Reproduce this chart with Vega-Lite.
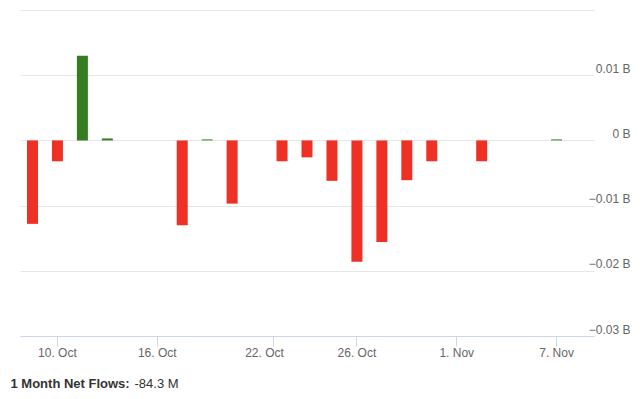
{
  "$schema": "https://vega.github.io/schema/vega-lite/v6.json",
  "width": 574,
  "height": 326,
  "autosize": {"type": "none"},
  "padding": {"left": 20, "top": 10, "right": 46, "bottom": 63},
  "background": "white",
  "config": {
    "view": {"stroke": null},
    "font": "Liberation Sans",
    "axis": {"labelFont": "Liberation Sans", "titleFont": "Liberation Sans"}
  },
  "data": {
    "values": [
      {"date": "2023-10-09", "flow": -12.8},
      {"date": "2023-10-10", "flow": -3.2},
      {"date": "2023-10-11", "flow": 13.0},
      {"date": "2023-10-12", "flow": 0.3},
      {"date": "2023-10-13", "flow": 0},
      {"date": "2023-10-16", "flow": 0},
      {"date": "2023-10-17", "flow": -13.0},
      {"date": "2023-10-18", "flow": 0.15},
      {"date": "2023-10-19", "flow": -9.7},
      {"date": "2023-10-20", "flow": 0},
      {"date": "2023-10-23", "flow": -3.2},
      {"date": "2023-10-24", "flow": -2.6},
      {"date": "2023-10-25", "flow": -6.2},
      {"date": "2023-10-26", "flow": -18.6},
      {"date": "2023-10-27", "flow": -15.6},
      {"date": "2023-10-30", "flow": -6.1},
      {"date": "2023-10-31", "flow": -3.2},
      {"date": "2023-11-01", "flow": 0},
      {"date": "2023-11-02", "flow": -3.2},
      {"date": "2023-11-03", "flow": 0},
      {"date": "2023-11-06", "flow": 0},
      {"date": "2023-11-07", "flow": 0.15}
    ]
  },
  "resolve": {"axis": {"x": "independent"}},
  "layer": [
    {
      "mark": {"type": "bar", "width": 11},
      "encoding": {
        "x": {
          "field": "date",
          "type": "ordinal",
          "sort": null,
          "scale": {
            "type": "band",
            "paddingInner": 0,
            "paddingOuter": 0,
            "domain": ["2023-10-09","2023-10-10","2023-10-11","2023-10-12","2023-10-13","2023-10-16","2023-10-17","2023-10-18","2023-10-19","2023-10-20","2023-10-23","2023-10-24","2023-10-25","2023-10-26","2023-10-27","2023-10-30","2023-10-31","2023-11-01","2023-11-02","2023-11-03","2023-11-06","2023-11-07","2023-11-08"]
          },
          "axis": {
            "orient": "bottom",
            "values": ["2023-10-10","2023-10-16","2023-10-26","2023-11-01","2023-11-07"],
            "labelExpr": "utcFormat(toDate(datum.value), '%-d. %b')",
            "labelAngle": 0,
            "labelFontSize": 12,
            "labelColor": "#666666",
            "labelBaseline": "alphabetic",
            "labelPadding": 10,
            "domainColor": "#ccd6eb",
            "tickColor": "#ccd6eb",
            "tickSize": 10,
            "grid": false,
            "title": "1 Month Net Flows:",
            "titleFontSize": 13,
            "titleFontWeight": "bold",
            "titleColor": "#333333",
            "titleAlign": "left",
            "titleBaseline": "alphabetic",
            "titleAngle": 0,
            "titleX": -10,
            "titleY": 51
          }
        },
        "y": {
          "field": "flow",
          "type": "quantitative",
          "scale": {"domain": [-30, 20], "nice": false, "zero": true},
          "axis": {
            "orient": "right",
            "values": [-30, -20, -10, 0, 10, 20],
            "labelExpr": "datum.value == 20 ? '' : (datum.value == 0 ? '0 B' : format(datum.value / 1000, '.2f') + ' B')",
            "labelFontSize": 12,
            "labelColor": "#666666",
            "labelAlign": "right",
            "labelBaseline": "alphabetic",
            "labelOffset": -3,
            "labelPadding": 36,
            "ticks": false,
            "tickSize": 0,
            "domain": false,
            "grid": true,
            "gridColor": "#e6e6e6",
            "title": null
          }
        },
        "color": {
          "condition": {"test": "datum.flow >= 0", "value": "#367c22"},
          "value": "#ee3124"
        }
      }
    },
    {
      "mark": {"type": "rule", "opacity": 0},
      "encoding": {
        "x": {
          "field": "date",
          "type": "ordinal",
          "sort": null,
          "axis": {
            "orient": "bottom",
            "values": ["2023-10-23"],
            "labelExpr": "'22. Oct'",
            "labelAngle": 0,
            "labelFontSize": 12,
            "labelColor": "#666666",
            "labelBaseline": "alphabetic",
            "labelPadding": 10,
            "labelOffset": -9,
            "tickOffset": -9,
            "domain": false,
            "tickColor": "#ccd6eb",
            "tickSize": 10,
            "grid": false,
            "title": "-84.3 M",
            "titleFontSize": 13,
            "titleFontWeight": "normal",
            "titleColor": "#333333",
            "titleAlign": "left",
            "titleBaseline": "alphabetic",
            "titleAngle": 0,
            "titleX": 114,
            "titleY": 51
          }
        }
      }
    }
  ]
}
